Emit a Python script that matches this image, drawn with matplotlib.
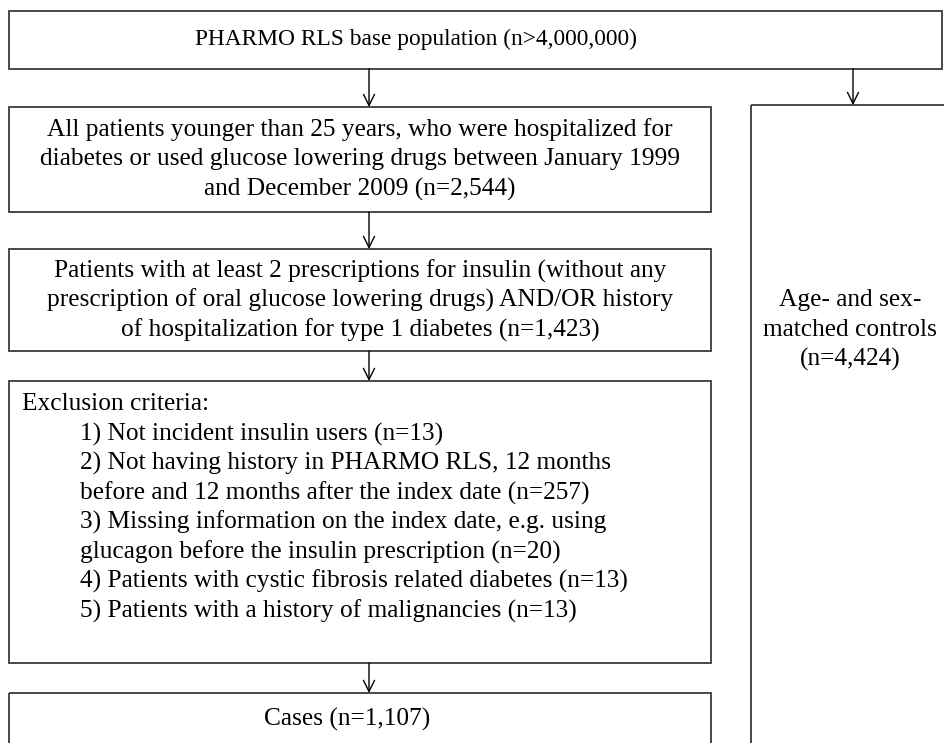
import matplotlib
matplotlib.use("Agg")
from matplotlib import pyplot as plt
from matplotlib.patches import Rectangle

plt.rcParams['font.family'] = ['Liberation Serif', 'DejaVu Serif']

# texts of the flowchart
top_text = "PHARMO RLS base population (n>4,000,000)"
selection_lines = [
    "All patients younger than 25 years, who were hospitalized for",
    "diabetes or used glucose lowering drugs between January 1999",
    "and December 2009 (n=2,544)",
]
insulin_lines = [
    "Patients with at least 2 prescriptions for insulin (without any",
    "prescription of oral glucose lowering drugs) AND/OR history",
    "of hospitalization for type 1 diabetes (n=1,423)",
]
exclusion_title = "Exclusion criteria:"
exclusion_lines = [
    "1) Not incident insulin users (n=13)",
    "2) Not having history in PHARMO RLS, 12 months",
    "before and 12 months after the index date (n=257)",
    "3) Missing information on the index date, e.g. using",
    "glucagon before the insulin prescription (n=20)",
    "4) Patients with cystic fibrosis related diabetes (n=13)",
    "5) Patients with a history of malignancies (n=13)",
]
cases_text = "Cases (n=1,107)"
controls_lines = ["Age- and sex-", "matched controls", "(n=4,424)"]

FS = 18.3
LH = 29.5
EDGE = "#3a3a3a"

fig = plt.figure(figsize=(9.44, 7.43), dpi=100)
ax = fig.add_axes([0, 0, 1, 1])
ax.set_xlim(0, 944)
ax.set_ylim(743, 0)
ax.axis("off")


def box(x0, y0, x1, y1):
    ax.add_patch(Rectangle((x0, y0), x1 - x0, y1 - y0, fill=False,
                           edgecolor=EDGE, linewidth=1.3, clip_on=True))


def arrow(x, y0, y1):
    ax.annotate("", xy=(x, y1), xytext=(x, y0),
                arrowprops=dict(arrowstyle="->", color="black", lw=1.0,
                                shrinkA=0, shrinkB=0, mutation_scale=20))


# boxes
box(9, 11, 942, 69)
box(9, 107, 711, 212)
box(9, 249, 711, 351)
box(9, 381, 711, 663)
box(9, 693, 711, 760)
box(751, 105, 960, 760)

# arrows
arrow(369, 69, 107)
arrow(853, 69, 105)
arrow(369, 212, 249)
arrow(369, 351, 381)
arrow(369, 663, 693)

# top line is set a little narrower in the original
ax.text(416, 39, top_text, ha="center", va="center", fontsize=16.8)
for i, s in enumerate(selection_lines):
    ax.text(360, 130 + i * LH, s, ha="center", va="center", fontsize=FS)
for i, s in enumerate(insulin_lines):
    ax.text(360, 271 + i * LH, s, ha="center", va="center", fontsize=FS)
ax.text(22, 404, exclusion_title, ha="left", va="center", fontsize=FS)
for i, s in enumerate(exclusion_lines):
    ax.text(80, 434 + i * LH, s, ha="left", va="center", fontsize=FS)
ax.text(347, 719, cases_text, ha="center", va="center", fontsize=FS)
for i, s in enumerate(controls_lines):
    ax.text(850, 300 + i * LH, s, ha="center", va="center", fontsize=FS)

fig.savefig("out.png", dpi=100)
